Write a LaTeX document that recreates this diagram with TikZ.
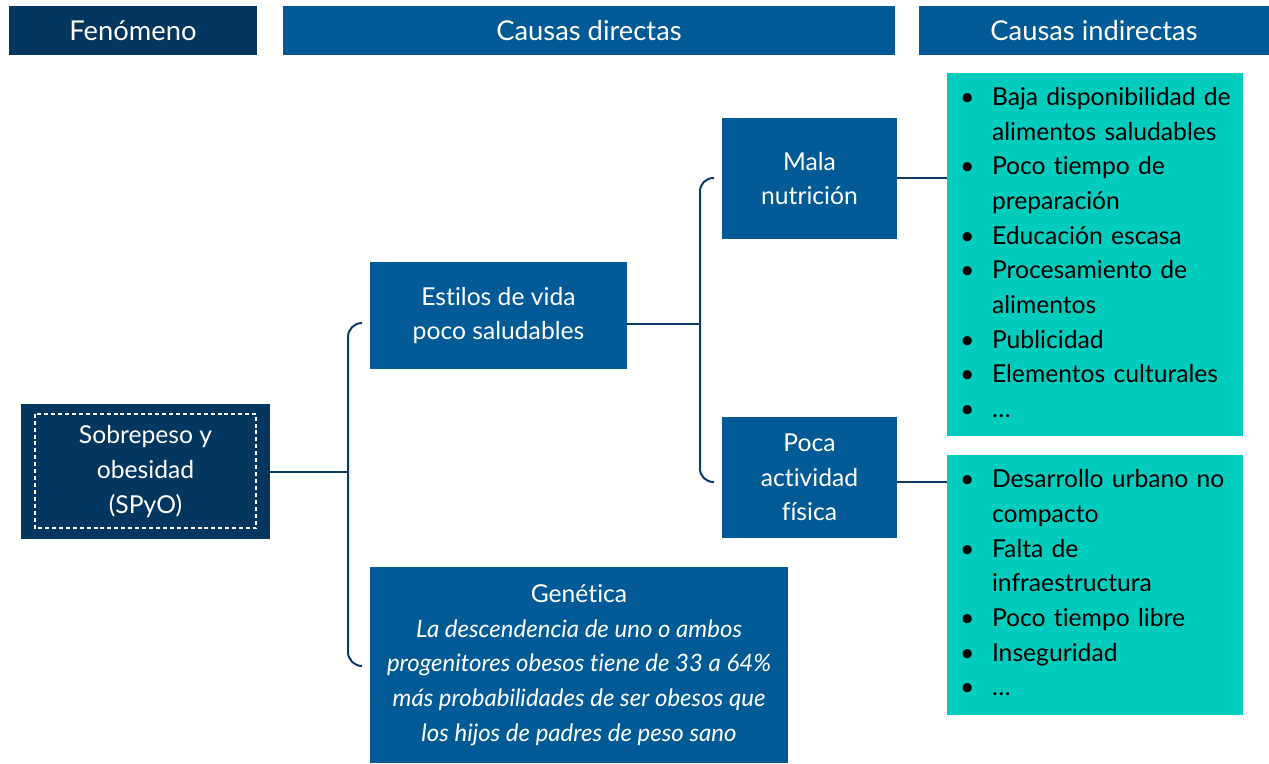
\documentclass[tikz,border=0pt]{standalone}
\usepackage{fontspec}
\setmainfont{Lato}[Ligatures=NoCommon]
\definecolor{navy}{HTML}{03375F}
\definecolor{midblue}{HTML}{025B97}
\definecolor{tealbox}{HTML}{00CCBE}
\definecolor{linecol}{HTML}{0B3A63}
\tikzset{
  hdr/.style={rectangle, inner sep=0pt, text=white, font=\fontsize{20.5}{24}\selectfont, minimum height=36.75pt},
  darkbox/.style={rectangle, fill=navy, inner sep=0pt, text=white, align=center, font=\fontsize{18.5}{26}\selectfont},
  bluebox/.style={rectangle, fill=midblue, inner sep=0pt, text=white, align=center, font=\fontsize{18.5}{26}\selectfont},
  listbox/.style={rectangle, fill=tealbox, inner xsep=9.75pt, inner ysep=0pt, text=black, align=left, text width=202.5pt, minimum width=222pt, font=\fontsize{18.5}{26}\selectfont},
  conn/.style={draw=linecol, line width=1.5pt},
}
\newcommand{\bul}{\textbullet}
\newcommand{\itsmall}{\fontsize{18}{26}\selectfont\itshape}
\begin{document}
\begin{tikzpicture}[x=0.75pt,y=-0.75pt]
\useasboundingbox (0,0) rectangle (1269,763);
% headers
\node[hdr, fill=navy, minimum width=186pt] (h1) at (133,30.5) {Fenómeno};
\node[hdr, fill=midblue, minimum width=459pt] (h2) at (589,30.5) {Causas directas};
\node[hdr, fill=midblue, minimum width=262.5pt] (h3) at (1094,30.5) {Causas indirectas};
% boxes
\node[darkbox, minimum width=186.75pt, minimum height=101.25pt] (spyo) at (145.5,471.5) {Sobrepeso y\\obesidad\\(SPyO)};
\draw[white, line width=1.3pt, dash pattern=on 3pt off 2.2pt] ([shift={(14,10)}]spyo.north west) rectangle ([shift={(-14,-11)}]spyo.south east);
\node[bluebox, minimum width=192.75pt, minimum height=80.25pt] (estilos) at (498.5,315.5) {Estilos de vida\\poco saludables};
\node[bluebox, minimum width=131.25pt, minimum height=90.75pt] (mala) at (809.5,178.5) {Mala\\nutrición};
\node[bluebox, minimum width=131.25pt, minimum height=90.75pt] (poca) at (809.5,477.5) {Poca\\actividad\\física};
\node[bluebox, minimum width=313.5pt, minimum height=147pt] (gen) at (579,665) {Genética\\\itsmall La descendencia de uno o ambos\\\itsmall progenitores obesos tiene de 33 a 64\%\\\itsmall más probabilidades de ser obesos que\\\itsmall los hijos de padres de peso sano};
\node[listbox, minimum height=272.25pt] (t1) at (1095,254.5) {%
\begin{tabular}{@{}p{24pt}@{}l@{}}
\bul & Baja disponibilidad de\\
 & alimentos saludables\\
\bul & Poco tiempo de\\
 & preparación\\
\bul & Educación escasa\\
\bul & Procesamiento de\\
 & alimentos\\
\bul & Publicidad\\
\bul & Elementos culturales\\
\bul & \dots
\end{tabular}};
\node[listbox, minimum height=195pt] (t2) at (1095,585) {%
\begin{tabular}{@{}p{24pt}@{}l@{}}
\bul & Desarrollo urbano no\\
 & compacto\\
\bul & Falta de\\
 & infraestructura\\
\bul & Poco tiempo libre\\
\bul & Inseguridad\\
\bul & \dots
\end{tabular}};
% connector coordinates
\coordinate (b1) at (348,472);
\coordinate (b1t) at (362,323);
\coordinate (b1b) at (362,666);
\coordinate (b2) at (700,324);
\coordinate (b2t) at (714,178);
\coordinate (b2b) at (714,482);
% connectors
\draw[conn] (spyo.east |- b1) -- (b1);
\draw[conn, rounded corners=10.5pt] (b1t) -- (b1t -| b1) -- (b1b -| b1) -- (b1b);
\draw[conn] (estilos.east |- b2) -- (b2);
\draw[conn, rounded corners=10pt] (b2t) -- (b2t -| b2) -- (b2b -| b2) -- (b2b);
\draw[conn] (mala.east |- b2t) -- (b2t -| t1.west);
\draw[conn] (poca.east |- b2b) -- (b2b -| t2.west);
\end{tikzpicture}
\end{document}
